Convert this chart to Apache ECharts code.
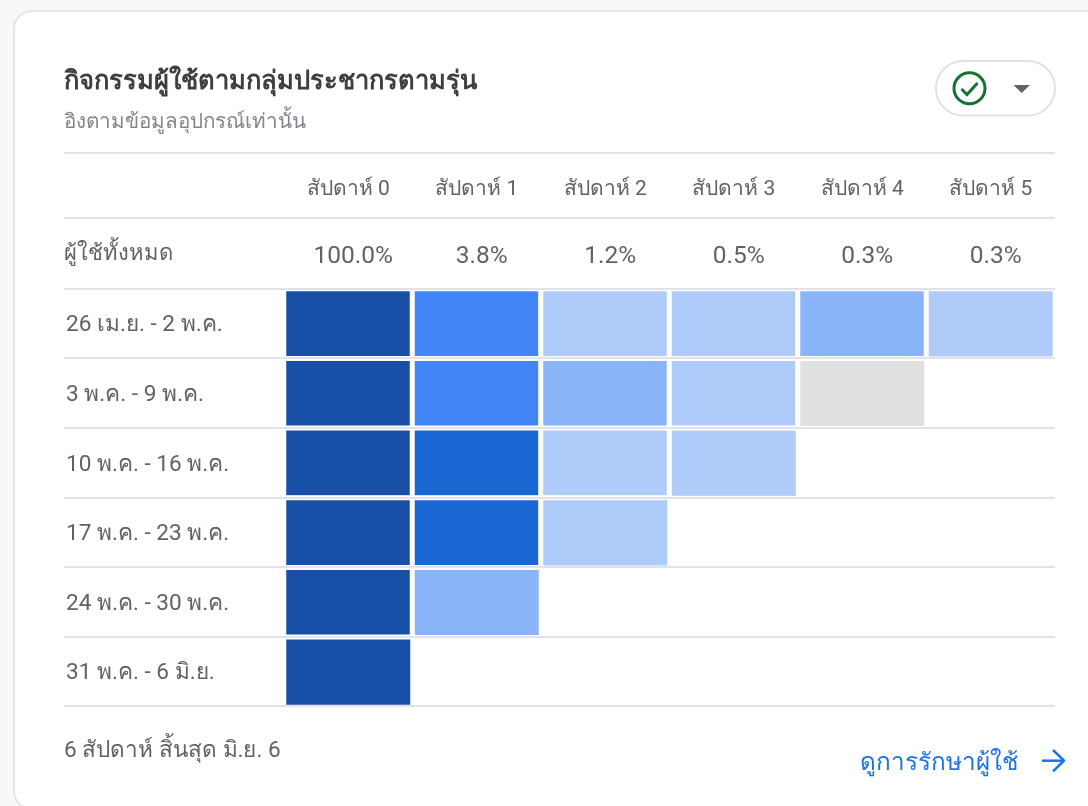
<!DOCTYPE html>
<html>
<head>
<meta charset="utf-8">
<script src="https://cdn.jsdelivr.net/npm/echarts@6/dist/echarts.min.js"></script>
<style>
  html, body { margin: 0; padding: 0; background: #f7f8fa; }
  #chart { width: 1088px; height: 806px; }
</style>
</head>
<body>
<div id="chart"></div>
<script>
const weeks = ["สัปดาห์ 0", "สัปดาห์ 1", "สัปดาห์ 2", "สัปดาห์ 3", "สัปดาห์ 4", "สัปดาห์ 5"];
const overall = ["100.0%", "3.8%", "1.2%", "0.5%", "0.3%", "0.3%"];
const cohorts = [
  "26 เม.ย. - 2 พ.ค.",
  "3 พ.ค. - 9 พ.ค.",
  "10 พ.ค. - 16 พ.ค.",
  "17 พ.ค. - 23 พ.ค.",
  "24 พ.ค. - 30 พ.ค.",
  "31 พ.ค. - 6 มิ.ย.",
];
// retention per cohort, estimated from the cell shades. 0 = grey cell
const row0 = [100, 4.2, 1.0, 1.0, 2.0, 1.0];
const row1 = [100, 4.4, 2.0, 1.0, 0];
const row2 = [100, 6.5, 1.0, 1.0];
const row3 = [100, 6.2, 1.0];
const row4 = [100, 2.0];
const row5 = [100];
const rows = [row0, row1, row2, row3, row4, row5];

const FONT = "Roboto, 'Noto Sans', sans-serif";
const RULE = "#e2e3e8";

let cells = [];
rows.forEach((row, y) => {
  row.forEach((v, x) => cells.push([x, y, v]));
});

const myChart = echarts.init(document.getElementById("chart"));

function rule(y) {
  return {
    type: "line",
    shape: { x1: 64, y1: y, x2: 1055, y2: y },
    style: { stroke: RULE, lineWidth: 2 },
    z: 1,
  };
}

myChart.setOption({
  animation: false,
  backgroundColor: "#f7f8fa",
  textStyle: { fontFamily: FONT },
  title: [
    {
      text: "กิจกรรมผู้ใช้ตามกลุ่มประชากรตามรุ่น",
      left: 64, top: 70,
      textStyle: { fontSize: 25.5, fontWeight: "bold", color: "#3c4043", fontFamily: FONT },
      padding: 0,
    },
    {
      text: "อิงตามข้อมูลอุปกรณ์เท่านั้น",
      left: 64, top: 112,
      textStyle: { fontSize: 20.6, fontWeight: "normal", color: "#80868b", fontFamily: FONT },
      padding: 0,
    },
    {
      text: "ผู้ใช้ทั้งหมด",
      left: 64, top: 243,
      textStyle: { fontSize: 22, fontWeight: "normal", color: "#5f6368", fontFamily: FONT },
      padding: 0,
    },
    {
      text: "6 สัปดาห์ สิ้นสุด มิ.ย. 6",
      left: 64, top: 740,
      textStyle: { fontSize: 22.6, fontWeight: "normal", color: "#5f6368", fontFamily: FONT },
      padding: 0,
    },
    {
      text: "ดูการรักษาผู้ใช้",
      left: 860, top: 752,
      textStyle: { fontSize: 24.3, fontWeight: "normal", color: "#1a73e8", fontFamily: FONT },
      padding: 0,
    },
  ],
  grid: [
    { left: 284, top: 289, width: 771, height: 418 },
    { left: 64, top: 288.5, width: 991, height: 417.5 },
    { left: 64, top: 291, width: 220, height: 417.5 },
  ],
  xAxis: [
    {
      type: "category", gridIndex: 0, position: "top", data: weeks,
      axisLine: { show: false }, axisTick: { show: false },
      axisLabel: { fontSize: 21, color: "#5f6368", margin: 88.5, fontFamily: FONT },
    },
    {
      type: "category", gridIndex: 0, position: "top", data: overall,
      axisLine: { show: false }, axisTick: { show: false },
      axisLabel: { fontSize: 24.5, color: "#5f6368", margin: 19.5, padding: [0, 0, 0, 10], fontFamily: FONT },
    },
    { type: "value", gridIndex: 1, show: false },
    { type: "value", gridIndex: 2, show: false },
  ],
  yAxis: [
    {
      type: "category", gridIndex: 0, inverse: true, data: cohorts,
      axisLine: { show: false }, axisTick: { show: false }, axisLabel: { show: false },
    },
    {
      // row rules, drawn over the white cell borders
      type: "category", gridIndex: 1, inverse: true, data: cohorts, z: 3,
      axisLine: { show: false }, axisTick: { show: false }, axisLabel: { show: false },
      splitLine: { show: true, lineStyle: { color: RULE, width: 2 } },
    },
    {
      type: "category", gridIndex: 2, inverse: true, data: cohorts,
      axisLine: { show: false }, axisTick: { show: false }, splitLine: { show: false },
      axisLabel: { inside: true, margin: 2, fontSize: 22.6, color: "#5f6368", align: "left", fontFamily: FONT },
    },
  ],
  visualMap: {
    show: false,
    seriesIndex: 0,
    dimension: 2,
    pieces: [
      { value: 0, color: "#e0e0e0" },
      { gt: 0, lte: 1.5, color: "#aecbfa" },
      { gt: 1.5, lte: 3, color: "#8ab4f8" },
      { gt: 3, lte: 5, color: "#4285f6" },
      { gt: 5, lte: 50, color: "#1967d2" },
      { gt: 50, color: "#174ea6" },
    ],
  },
  series: [
    {
      type: "heatmap",
      xAxisIndex: 0,
      yAxisIndex: 0,
      data: cells,
      itemStyle: { borderColor: "#ffffff", borderWidth: 5 },
      emphasis: { disabled: true },
    },
  ],
  graphic: [
    {
      type: "rect", z: -10, silent: true,
      shape: { x: 14, y: 11, width: 1100, height: 798, r: 18 },
      style: { fill: "#ffffff", stroke: "#e3e5e9", lineWidth: 2 },
    },
    rule(153),
    rule(218),
    {
      type: "rect",
      shape: { x: 936, y: 61, width: 119, height: 54.5, r: 27 },
      style: { fill: "#ffffff", stroke: "#e0e1e5", lineWidth: 2 },
    },
    {
      type: "circle",
      shape: { cx: 969.5, cy: 88.3, r: 15.5 },
      style: { fill: "none", stroke: "#137333", lineWidth: 3 },
    },
    {
      type: "polyline",
      shape: { points: [[961.5, 89], [967, 94.5], [977.5, 83]] },
      style: { fill: "none", stroke: "#137333", lineWidth: 3 },
    },
    {
      type: "polygon",
      shape: { points: [[1013.5, 85], [1030, 85], [1021.7, 93]] },
      style: { fill: "#5f6368" },
    },
    {
      type: "polyline",
      shape: { points: [[1042, 760.7], [1064, 760.7]] },
      style: { fill: "none", stroke: "#1a73e8", lineWidth: 2.5 },
    },
    {
      type: "polyline",
      shape: { points: [[1053, 750], [1064, 760.7], [1053, 771.4]] },
      style: { fill: "none", stroke: "#1a73e8", lineWidth: 2.5, lineJoin: "round" },
    },
  ],
});
</script>
</body>
</html>
